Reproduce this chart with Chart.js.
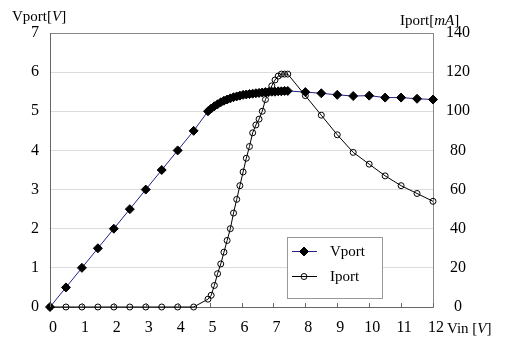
<!DOCTYPE html>
<html>
<head>
<meta charset="utf-8">
<script src="https://cdn.jsdelivr.net/npm/chart.js@4.4.1/dist/chart.umd.min.js"></script>
<style>
  html, body { margin: 0; padding: 0; background: #fff; }
  #wrap { width: 508px; height: 348px; }
</style>
</head>
<body>
<div id="wrap"><canvas id="chart" width="508" height="348"></canvas></div>
<script>
// input voltage sweep [V]
const vin = [
  0, 0.5, 1, 1.5, 2, 2.5, 3, 3.5, 4, 4.5,
  4.95, 5.05, 5.15, 5.25, 5.35, 5.45, 5.55, 5.65, 5.75, 5.85,
  5.95, 6.05, 6.15, 6.25, 6.35, 6.45, 6.55, 6.65, 6.75, 6.85,
  6.95, 7.05, 7.15, 7.25, 7.35, 7.45,
  8, 8.5, 9, 9.5, 10, 10.5, 11, 11.5, 12,
];
// port voltage [V]
const vport = [
  0, 0.5, 1, 1.5, 2, 2.5, 3, 3.5, 4, 4.5,
  5.0, 5.07, 5.13, 5.18, 5.23, 5.27, 5.3, 5.33, 5.36, 5.38,
  5.4, 5.42, 5.43, 5.44, 5.45, 5.46, 5.47, 5.48, 5.49, 5.49,
  5.5, 5.5, 5.51, 5.51, 5.52, 5.52,
  5.49, 5.46, 5.42, 5.39, 5.4, 5.35, 5.35, 5.32, 5.3,
];
// port current [mA]
const iport = [
  0, 0, 0, 0, 0, 0, 0, 0, 0, 0,
  4, 6, 11, 17, 22, 28, 34, 40, 48, 55,
  62, 69, 76, 82, 89, 93, 96, 100, 106, 110,
  113, 116, 118, 119, 119, 119,
  108, 98, 88, 79, 73, 67, 62, 58, 54,
];

const serif = "'Liberation Serif', 'Times New Roman', serif";

const pairs = (ys) => vin.map((x, i) => ({ x, y: ys[i] }));

function drawRuns(ctx, runs, x, y, size) {
  runs.forEach(([text, italic]) => {
    ctx.font = `${italic ? "italic " : ""}${size}px ${serif}`;
    ctx.fillText(text, x, y);
    x += ctx.measureText(text).width;
  });
}

// inner x ticks, axis titles and the boxed legend
const extras = {
  id: "extras",
  afterDraw(chart) {
    const { ctx, chartArea: a, scales } = chart;
    ctx.save();

    ctx.strokeStyle = "#666";
    ctx.lineWidth = 1;
    ctx.beginPath();
    scales.x.ticks.forEach((t) => {
      const px = Math.round(scales.x.getPixelForValue(t.value)) + 0.5;
      ctx.moveTo(px, a.bottom);
      ctx.lineTo(px, a.bottom - 4);
    });
    ctx.stroke();

    ctx.fillStyle = "#000";
    ctx.textBaseline = "alphabetic";
    ctx.textAlign = "left";
    drawRuns(ctx, [["Vport[", false], ["V", true], ["]", false]], 12, 21, 15);
    drawRuns(ctx, [["Iport[", false], ["mA", true], ["]", false]], 400, 25, 15);
    drawRuns(ctx, [["Vin [", false], ["V", true], ["]", false]], 447, 333, 15);

    // legend
    ctx.fillStyle = "#fff";
    ctx.fillRect(287.5, 237.5, 95, 61);
    ctx.strokeStyle = "#999";
    ctx.strokeRect(287.5, 237.5, 95, 61);
    chart.data.datasets.forEach((ds, i) => {
      const cy = 251 + i * 25;
      ctx.strokeStyle = ds.borderColor;
      ctx.lineWidth = 1;
      ctx.beginPath();
      ctx.moveTo(292, cy + 0.5);
      ctx.lineTo(317, cy + 0.5);
      ctx.stroke();
      ctx.fillStyle = ds.pointBackgroundColor;
      ctx.strokeStyle = ds.pointBorderColor;
      ctx.lineWidth = ds.pointBorderWidth;
      Chart.helpers.drawPoint(ctx, {
        pointStyle: ds.pointStyle,
        radius: ds.pointRadius,
        rotation: 0,
        borderWidth: ds.pointBorderWidth,
      }, 304, cy + 0.5);
      ctx.fillStyle = "#000";
      ctx.font = `15px ${serif}`;
      ctx.textBaseline = "middle";
      ctx.fillText(ds.label, 330, cy + 1);
    });

    ctx.restore();
  },
};

new Chart(document.getElementById("chart"), {
  type: "line",
  data: {
    datasets: [
      {
        label: "Vport",
        data: pairs(vport),
        yAxisID: "y",
        borderColor: "#22228a",
        borderWidth: 1,
        pointStyle: "rectRot",
        pointRadius: 4.5,
        pointBackgroundColor: "#000",
        pointBorderColor: "#000",
        pointBorderWidth: 1,
        clip: false,
      },
      {
        label: "Iport",
        data: pairs(iport),
        yAxisID: "y2",
        borderColor: "#000",
        borderWidth: 1,
        pointStyle: "circle",
        pointRadius: 3,
        pointBackgroundColor: "rgba(0,0,0,0)",
        pointBorderColor: "#000",
        pointBorderWidth: 1,
        clip: false,
      },
    ],
  },
  options: {
    responsive: false,
    animation: false,
    layout: { padding: { top: 33, left: 0, right: 0, bottom: 0 } },
    plugins: { legend: { display: false }, tooltip: { enabled: false } },
    elements: { line: { tension: 0 } },
    scales: {
      x: {
        type: "linear",
        min: 0,
        max: 12,
        afterFit: (s) => { s.height = 41; },
        ticks: { stepSize: 1, color: "#000", font: { family: serif, size: 16 }, padding: 3, labelOffset: 3, maxRotation: 0 },
        grid: { display: false },
        border: { color: "#666" },
      },
      y: {
        position: "left",
        min: 0,
        max: 7,
        afterFit: (s) => { s.width = 50; },
        ticks: { stepSize: 1, color: "#000", font: { family: serif, size: 16 }, padding: 11 },
        grid: {
          drawTicks: false,
          color: (c) => (c.tick && c.tick.value === 7 ? "#888" : "#dcdcdc"),
        },
        border: { color: "#666" },
      },
      y2: {
        position: "right",
        min: 0,
        max: 140,
        afterFit: (s) => { s.width = 75; },
        ticks: { stepSize: 20, color: "#000", font: { family: serif, size: 16 }, padding: 5, crossAlign: "center" },
        grid: { display: false },
        border: { color: "#888" },
      },
    },
  },
  plugins: [extras],
});
</script>
</body>
</html>
